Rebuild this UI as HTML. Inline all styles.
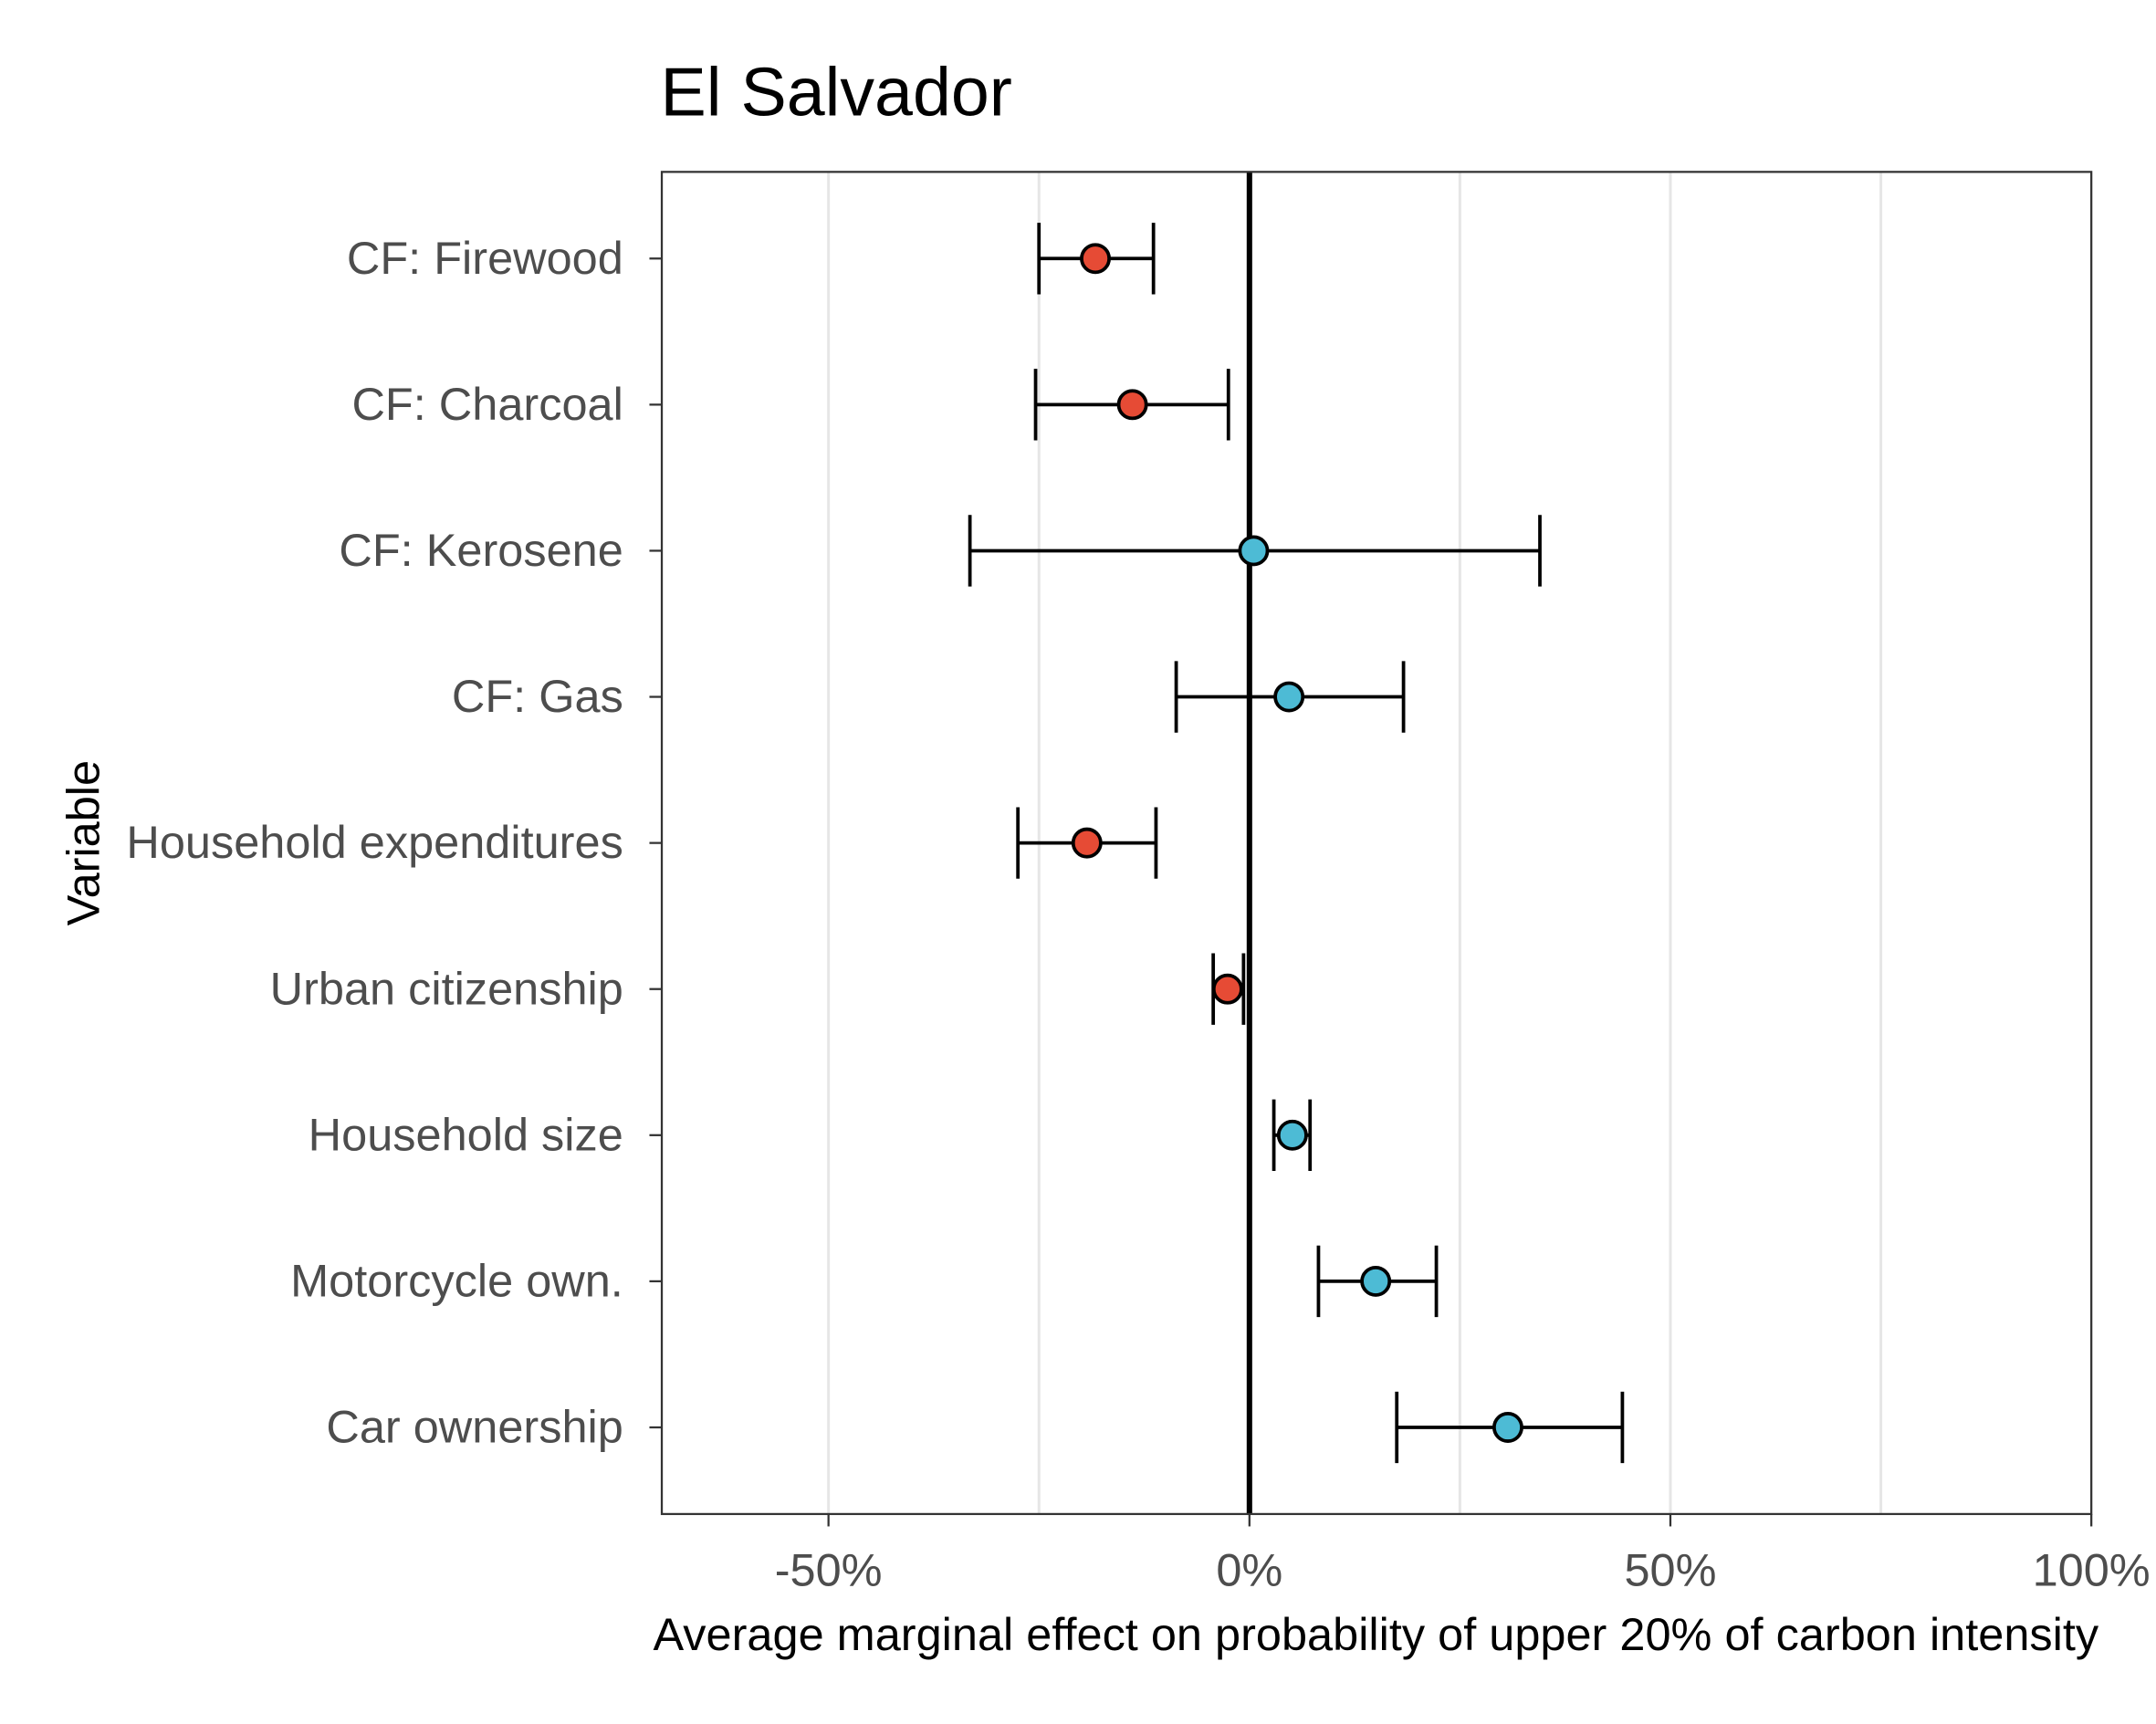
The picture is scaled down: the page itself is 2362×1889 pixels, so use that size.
<!DOCTYPE html>
<html><head><meta charset="utf-8"><style>
html,body{margin:0;padding:0;background:#fff}
svg{display:block}
text{font-family:"Liberation Sans",Arial,sans-serif}
</style></head><body>
<svg id="chart" width="2362" height="1889" viewBox="0 0 1567 1253.7" preserveAspectRatio="none" xmlns="http://www.w3.org/2000/svg">
<rect width="1570" height="1260" fill="#fff"/>
<text x="480" y="84" font-size="50" fill="#000">El Salvador</text>
<g id="grid"></g>
<g id="marks"></g>
<rect x="481" y="125" width="1039" height="976" fill="none" stroke="#333" stroke-width="1.5"/>
<g id="axes"></g>
<text x="1000" y="1200" font-size="33.5" text-anchor="middle" fill="#000">Average marginal effect on probability of upper 20% of carbon intensity</text>
<text transform="translate(72,613) rotate(-90)" font-size="33.5" text-anchor="middle" fill="#000">Variable</text>
</svg>
<script>
const categories=["CF: Firewood","CF: Charcoal","CF: Kerosene","CF: Gas","Household expenditures","Urban citizenship","Household size","Motorcycle own.","Car ownership"];
const estimates=[-18.3,-13.9,0.5,4.7,-19.3,-2.6,5.1,15.0,30.7];
const lowerCI=[-25.0,-25.4,-33.2,-8.7,-27.5,-4.3,2.9,8.2,17.5];
const upperCI=[-11.4,-2.5,34.5,18.3,-11.1,-0.7,7.2,22.2,44.3];
const xTicks=[-50,0,50,100];
const xTickLabels=["-50%","0%","50%","100%"];
const xGrid=[-50,-25,25,50,75];

const NS="http://www.w3.org/2000/svg";
const x0=481,x1=1520,yTop=125,yBot=1101,dMin=-69.8,dMax=100;
const xs=v=>x0+(v-dMin)/(dMax-dMin)*(x1-x0);
const ys=i=>188+i*106.25;
function mk(tag,attrs,parent){const e=document.createElementNS(NS,tag);for(const k in attrs)e.setAttribute(k,attrs[k]);parent.appendChild(e);return e;}
const grid=document.getElementById('grid'),marks=document.getElementById('marks'),axes=document.getElementById('axes');
xGrid.forEach(v=>{const l=mk('line',{x1:xs(v),x2:xs(v),y1:yTop,y2:yBot,stroke:'#e6e6e6','stroke-width':2},grid);

});
const zl=mk('line',{x1:xs(0),x2:xs(0),y1:yTop,y2:yBot,stroke:'#000','stroke-width':4},grid);


categories.forEach((c,i)=>{
 const y=ys(i);
 const g=mk('g',{},marks);
 
 
 mk('line',{x1:xs(lowerCI[i]),x2:xs(upperCI[i]),y1:y,y2:y,stroke:'#000','stroke-width':2.5},g);
 mk('line',{x1:xs(lowerCI[i]),x2:xs(lowerCI[i]),y1:y-26,y2:y+26,stroke:'#000','stroke-width':2.5},g);
 mk('line',{x1:xs(upperCI[i]),x2:xs(upperCI[i]),y1:y-26,y2:y+26,stroke:'#000','stroke-width':2.5},g);
 const p=mk('circle',{cx:xs(estimates[i]),cy:y,r:10,fill:estimates[i]<0?'#E64B35':'#4DBBD5',stroke:'#000','stroke-width':2.5},marks);
 
 
 const t=mk('line',{x1:x0-9,x2:x0,y1:y,y2:y,stroke:'#333','stroke-width':1.5},axes);
 
 
 const lb=mk('text',{x:x0-28,y:y+11,'font-size':33.5,'text-anchor':'end',fill:'#4d4d4d'},axes);
 lb.textContent=c;
 
 
});
xTicks.forEach((v,i)=>{
 const t=mk('line',{x1:xs(v),x2:xs(v),y1:yBot,y2:yBot+9,stroke:'#333','stroke-width':1.5},axes);
 
 
 const lb=mk('text',{x:xs(v),y:yBot+52,'font-size':33.5,'text-anchor':'middle',fill:'#4d4d4d'},axes);
 lb.textContent=xTickLabels[i];
 
 
});
</script>
</body></html>
